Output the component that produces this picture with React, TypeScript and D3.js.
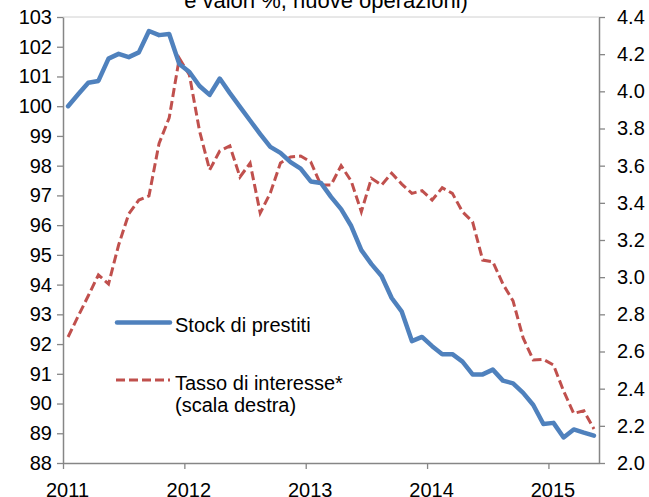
import React, { useEffect, useRef } from 'react';
import * as d3 from 'd3';

// mesi: gen 2011 - mag 2015
const mesi: Date[] = d3.timeMonth.range(new Date(2011, 0, 1), new Date(2015, 5, 1));

// stock di prestiti (indice, scala sinistra)
const stock = [
  100.0, 100.4, 100.79, 100.85, 101.6, 101.76, 101.65, 101.81, 102.53, 102.39,
  102.43, 101.42, 101.15, 100.68, 100.38, 100.93, 100.44, 99.98, 99.52, 99.06,
  98.63, 98.43, 98.12, 97.9, 97.47, 97.42, 96.95, 96.54, 95.97, 95.16,
  94.69, 94.29, 93.55, 93.09, 92.1, 92.24, 91.93, 91.66, 91.66, 91.41,
  90.98, 90.98, 91.14, 90.77, 90.68, 90.36, 89.95, 89.31, 89.35, 88.86,
  89.13, 89.02, 88.92,
];

// tasso di interesse (%, scala destra)
const tasso = [
  2.678, 2.79, 2.9, 3.012, 2.963, 3.173, 3.34, 3.415, 3.437, 3.72,
  3.857, 4.178, 4.088, 3.787, 3.577, 3.679, 3.706, 3.539, 3.614, 3.345,
  3.453, 3.614, 3.647, 3.652, 3.62, 3.496, 3.496, 3.6, 3.517, 3.352,
  3.532, 3.496, 3.559, 3.501, 3.451, 3.465, 3.415, 3.481, 3.451, 3.352,
  3.298, 3.092, 3.083, 2.963, 2.872, 2.673, 2.554, 2.558, 2.527, 2.387,
  2.267, 2.281, 2.183,
];

const anni = [2011, 2012, 2013, 2014, 2015];
const tickSinistra = d3.range(88, 104);
const tickDestra = [2.0, 2.2, 2.4, 2.6, 2.8, 3.0, 3.2, 3.4, 3.6, 3.8, 4.0, 4.2, 4.4];

const W = 649, H = 497;
const margin = { top: 17, right: 50, bottom: 34, left: 63 };
const FONT = '"Liberation Sans", Arial, sans-serif';
const BLU = '#4F81BD';
const ROSSO = '#C0504D';
const GRIGIO = '#868686';

export default function App() {
  const ref = useRef<SVGSVGElement>(null);

  useEffect(() => {
    const svg = d3.select(ref.current);
    svg.selectAll('*').remove();

    const x0 = margin.left, x1 = W - margin.right;
    const y0 = H - margin.bottom, y1 = margin.top;

    const x = d3.scaleBand<number>().domain(d3.range(mesi.length)).range([x0, x1]).padding(0);
    const cx = (i: number) => (x(i) as number) + x.bandwidth() / 2;
    const xAnni = d3.scaleLinear().domain([anni[0], anni[0] + mesi.length / 12]).range([x0, x1]);

    const yL = d3.scaleLinear().domain([88, 103]).range([y0, y1]);
    const yR = d3.scaleLinear().domain([2.0, 4.4]).range([y0, y1]);

    // title (clipped at top)
    svg.append('text')
      .attr('x', 326).attr('y', 8)
      .attr('text-anchor', 'middle')
      .style('font', `22px ${FONT}`)
      .text('e valori %, nuove operazioni)');

    // top border
    svg.append('line')
      .attr('x1', x0).attr('x2', x1).attr('y1', y1).attr('y2', y1)
      .attr('stroke', '#d0d0d0').attr('stroke-width', 1);

    const styleAxis = (g: any) => {
      g.select('.domain').attr('stroke', GRIGIO).attr('stroke-width', 1.5);
      g.selectAll('.tick line').attr('stroke', GRIGIO).attr('stroke-width', 1.3);
      g.selectAll('.tick text').attr('fill', '#000').style('font', `20px ${FONT}`);
    };

    // left axis
    svg.append('g')
      .attr('transform', `translate(${x0},0)`)
      .call(d3.axisLeft(yL).tickValues(tickSinistra).tickSize(6).tickSizeOuter(0).tickPadding(5).tickFormat(d3.format('d')))
      .call(styleAxis);

    // right axis
    svg.append('g')
      .attr('transform', `translate(${x1},0)`)
      .call(d3.axisRight(yR).tickValues(tickDestra).tickSize(6).tickSizeOuter(0).tickPadding(12).tickFormat(d3.format('.1f')))
      .call(styleAxis);

    // x axis
    const gx = svg.append('g')
      .attr('transform', `translate(0,${y0})`)
      .call(d3.axisBottom(xAnni).tickValues(anni).tickSize(6).tickSizeOuter(0).tickPadding(14).tickFormat(d3.format('d')))
      .call(styleAxis);
    gx.selectAll('.tick text').attr('dx', 4);

    // lines
    const lineaStock = d3.line<number>().x((d, i) => cx(i)).y((d) => yL(d));
    const lineaTasso = d3.line<number>().x((d, i) => cx(i)).y((d) => yR(d));

    svg.append('path')
      .datum(tasso)
      .attr('d', lineaTasso)
      .attr('fill', 'none')
      .attr('stroke', ROSSO)
      .attr('stroke-width', 3)
      .attr('stroke-dasharray', '9,4');

    svg.append('path')
      .datum(stock)
      .attr('d', lineaStock)
      .attr('fill', 'none')
      .attr('stroke', BLU)
      .attr('stroke-width', 4.5)
      .attr('stroke-linejoin', 'round')
      .attr('stroke-linecap', 'round');

    // legend
    const leg = svg.append('g');
    leg.append('line')
      .attr('x1', 117).attr('x2', 170).attr('y1', 322.5).attr('y2', 322.5)
      .attr('stroke', BLU).attr('stroke-width', 4.5).attr('stroke-linecap', 'round');
    leg.append('text')
      .attr('x', 175).attr('y', 332)
      .style('font', `20px ${FONT}`)
      .text('Stock di prestiti');
    leg.append('line')
      .attr('x1', 116).attr('x2', 170).attr('y1', 380).attr('y2', 380)
      .attr('stroke', ROSSO).attr('stroke-width', 3).attr('stroke-dasharray', '9,4');
    const t = leg.append('text')
      .attr('x', 175).attr('y', 390)
      .style('font', `20px ${FONT}`);
    t.append('tspan').attr('x', 175).text('Tasso di interesse*');
    t.append('tspan').attr('x', 175).attr('dy', 22).text('(scala destra)');
  }, []);

  return (
    <svg
      ref={ref}
      width={W}
      height={H}
      style={{ position: 'absolute', left: 0, top: 0, background: '#fff' }}
    />
  );
}
